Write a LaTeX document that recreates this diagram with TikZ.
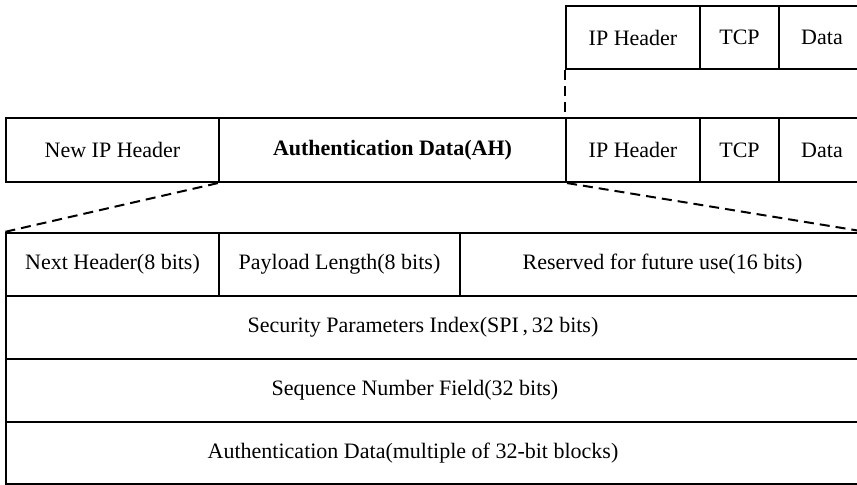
\documentclass[tikz,border=0pt]{standalone}
\usepackage{fontspec}
\setmainfont{Liberation Serif}

\begin{document}
\begin{tikzpicture}[x=0.5pt, y=-0.5pt]
		\tikzstyle{campo} = [draw, shape = rectangle, line width = 1.1pt, inner sep = 0pt, font = \fontsize{11}{13}\selectfont]
		\tikzstyle{fila} = [campo, minimum height = 31.5pt]
		\tikzstyle{enlace} = [line width = 1pt, dash pattern = on 5pt off 3pt]
		\useasboundingbox (0, 0) rectangle (857, 485);
	% Paquete original
		\node[campo, minimum width = 67pt, minimum height = 31.5pt](ip1) at (633, 37.5) {IP Header};
		\node[campo, minimum width = 39.5pt, minimum height = 31.5pt](tcp1) at (739.5, 37.5) {TCP};
		\node[campo, minimum width = 43pt, minimum height = 31.5pt](data1) at (822, 37.5) {Data};

	% Paquete con AH
		\node[campo, minimum width = 106.5pt, minimum height = 32pt](newip) at (112.5, 150) {New IP Header};
		\node[campo, minimum width = 173.5pt, minimum height = 32pt](ah) at (392.5, 150) {\bfseries Authentication Data(AH)};
		\node[campo, minimum width = 67pt, minimum height = 32pt](ip2) at (633, 150) {IP Header};
		\node[campo, minimum width = 39.5pt, minimum height = 32pt](tcp2) at (739.5, 150) {TCP};
		\node[campo, minimum width = 43pt, minimum height = 32pt](data2) at (822, 150) {Data};

	% Cabecera AH
		\node[fila, minimum width = 106.5pt](nh) at (112.5, 264.5) {Next Header(8 bits)};
		\node[fila, minimum width = 120.5pt](pl) at (339.5, 264.5) {Payload Length(8 bits)};
		\node[fila, minimum width = 202.5pt](res) at (662.5, 264.5) {Reserved for future use(16 bits)};
		\node[fila, minimum width = 429.5pt](spi) at (435.5, 327.5) {};
		\node[fila, minimum width = 429.5pt](seq) at (435.5, 390.5) {};
		\node[fila, minimum width = 429.5pt, minimum height = 31pt](auth) at (435.5, 453) {};
		\node[font = \fontsize{11}{13}\selectfont] (spit) at (423, 327.5) {Security Parameters Index(SPI\,,\,32 bits)};
		\node[font = \fontsize{11}{13}\selectfont] (seqt) at (415, 390.5) {Sequence Number Field(32 bits)};
		\node[font = \fontsize{11}{13}\selectfont] (autht) at (413, 453) {Authentication Data(multiple of 32-bit blocks)};

	% Enlaces
		\draw[enlace] (ip1.south west) -- (ip2.north west);
		\draw[enlace] (ah.south west) -- (nh.north west);
		\draw[enlace] (ah.south east) -- (res.north east);

	\end{tikzpicture}
\end{document}
